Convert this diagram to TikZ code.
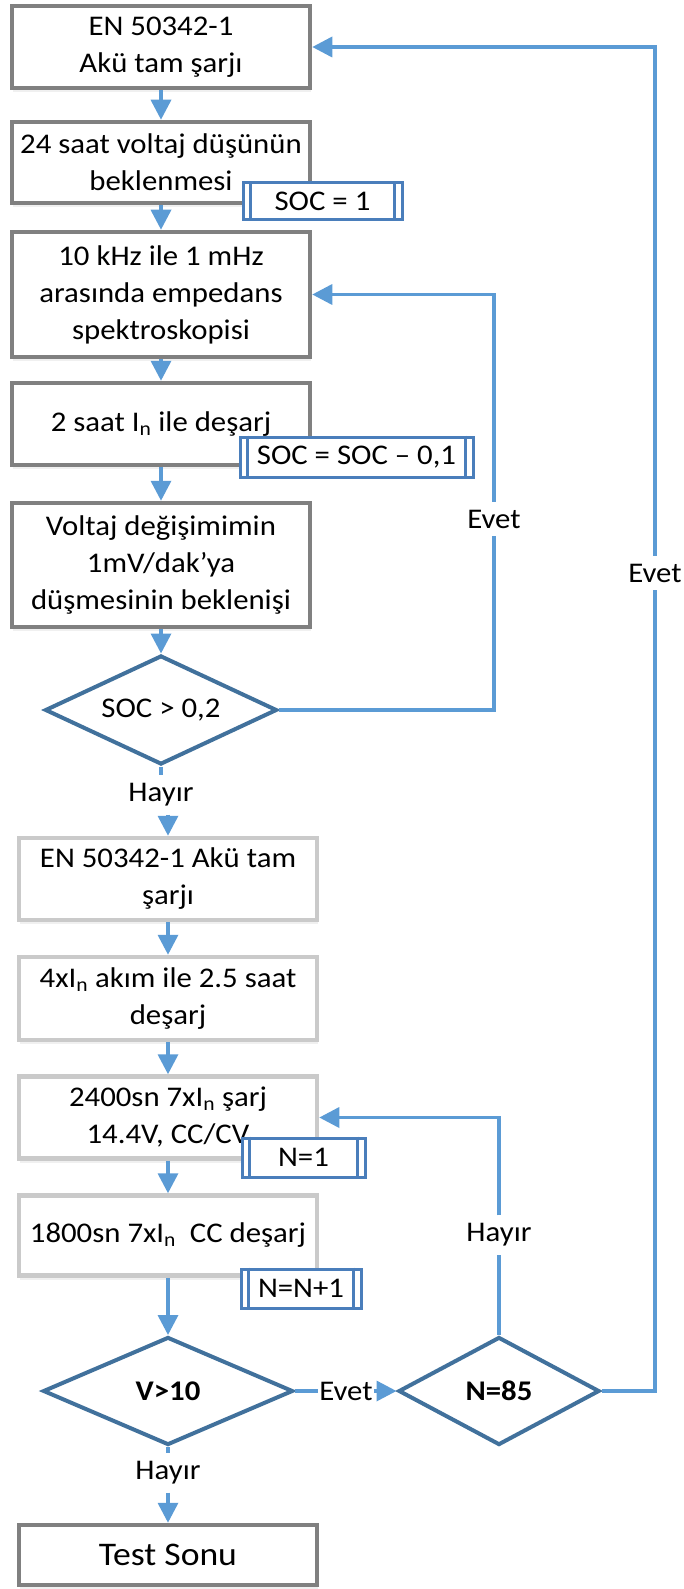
\documentclass[tikz,border=0pt]{standalone}
\usepackage{fontspec}
\setmainfont{Carlito}[FakeStretch=1.08]
\usepackage{tikz}
\usetikzlibrary{arrows.meta, shapes.geometric, shadows}
\definecolor{boxgray}{HTML}{808080}
\definecolor{palegray}{HTML}{CACACA}
\definecolor{decblue}{HTML}{41719C}
\definecolor{tagblue}{HTML}{4A7EBB}
\definecolor{flowblue}{HTML}{5B9BD5}
\newcommand{\In}{I\textsubscript{n}}

\begin{document}
\begin{tikzpicture}[x=1pt, y=-1pt,
		every node/.style={font=\fontsize{28.5}{37}\selectfont},
		stepbox/.style={draw=boxgray, line width=4.5pt, fill=white, minimum width=298pt, inner sep=0pt, align=center,
			drop shadow={shadow xshift=1pt, shadow yshift=-4pt, opacity=.12}},
		palebox/.style={stepbox, draw=palegray},
		decision/.style={diamond, shape aspect=2.2, draw=decblue, line width=4pt, fill=white, inner sep=0pt},
		tagbox/.style={draw=tagblue, line width=3pt, fill=white, inner sep=0pt},
		flow/.style={draw=flowblue, line width=3.5pt},
		arrow/.style={flow, -{Triangle[length=20pt, width=20pt]}},
		answer/.style={inner xsep=1pt, inner ysep=8pt}]
	\useasboundingbox (0,0) rectangle (683,1589);
	\node[stepbox, minimum height=82pt] (b1) at (161,47) {EN 50342-1\\Akü tam şarjı};
	\node[stepbox, minimum height=81pt] (b2) at (161,162.5) {24 saat voltaj düşünün\\beklenmesi};
	\node[stepbox, minimum height=125pt] (b3) at (161,294.5) {10 kHz ile 1 mHz\\arasında empedans\\spektroskopisi};
	\node[stepbox, minimum height=82pt] (b4) at (161,424) {2 saat \In{} ile deşarj};
	\node[stepbox, minimum height=124pt] (b5) at (161,565) {Voltaj değişimimin\\1mV/dak’ya\\düşmesinin beklenişi};
	\node[decision, minimum width=232pt, minimum height=109pt] (d1) at (161,710) {SOC > 0,2};
	\node[palebox, minimum height=82pt] (b6) at (168,879) {EN 50342-1 Akü tam\\şarjı};
	\node[palebox, minimum height=83pt] (b7) at (168,998.5) {4x\In{} akım ile 2.5 saat\\deşarj};
	\node[palebox, minimum height=82pt] (b8) at (168,1117.5) {2400sn 7x\In{} şarj\\14.4V, CC/CV};
	\node[palebox, minimum height=80pt] (b9) at (168,1235.5) {1800sn 7x\In{}\ \ CC deşarj};
	\node[decision, minimum width=250pt, minimum height=108pt] (d2) at (168,1391) {\textbf{V>10}};
	\node[decision, minimum width=201pt, minimum height=108pt] (d3) at (499,1391) {\textbf{N=85}};
	\node[stepbox, minimum height=60pt, font=\fontsize{33}{40}\selectfont] (b10) at (168,1555) {Test Sonu};
	\node[tagbox, minimum width=159pt, minimum height=37pt] (t1) at (322.5,201.5) {SOC = 1};
	\node[tagbox, minimum width=233pt, minimum height=40pt] (t2) at (356.5,457) {SOC = SOC – 0,1};
	\node[tagbox, minimum width=123pt, minimum height=39pt] (t3) at (303.5,1157.5) {N=1};
	\node[tagbox, minimum width=120pt, minimum height=39pt] (t4) at (301,1288.5) {N=N+1};
	\foreach \tg in {t1,t2,t3,t4}
		\draw[tagblue, line width=2.5pt] ([xshift=9pt]\tg.north west) -- ([xshift=9pt]\tg.south west)
			([xshift=-9pt]\tg.north east) -- ([xshift=-9pt]\tg.south east);
	\node[answer] (h1) at (161,795) {Hayır};
	\node[answer] (e1) at (494,519) {Evet};
	\node[answer] (e2) at (655,573) {Evet};
	\node[answer] (e3) at (346,1391) {Evet};
	\node[answer] (h2) at (499,1235) {Hayır};
	\node[answer] (h3) at (168,1473) {Hayır};
	\foreach \a/\b in {b1/b2, b2/b3, b3/b4, b4/b5, b5/d1, b6/b7, b7/b8, b8/b9, b9/d2}
		\draw[arrow] (\a.south) -- (\b.north);
	\draw[flow] (d1.south) -- (h1);
	\draw[arrow] (h1.south -| b6.north) -- (b6.north);
	\draw[flow] (d1.east) -| (e1);
	\draw[arrow] (e1) |- (b3.east);
	\draw[flow] (d2.east) -- (e3);
	\draw[arrow] (e3) -- (d3.west);
	\draw[flow] (d3.north) -- (h2);
	\draw[arrow] (h2) |- (b8.east);
	\draw[flow] (d3.east) -| (e2);
	\draw[arrow] (e2) |- (b1.east);
	\draw[flow] (d2.south) -- (h3);
	\draw[arrow] (h3) -- (b10.north);
\end{tikzpicture}
\end{document}
